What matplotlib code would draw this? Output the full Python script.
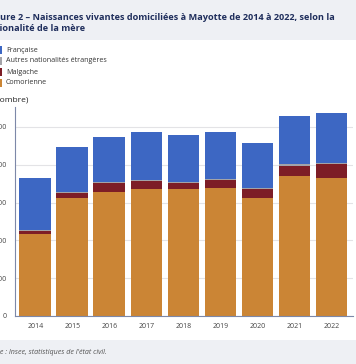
import matplotlib
matplotlib.use("Agg")
import matplotlib.pyplot as plt
from matplotlib.patches import Rectangle
import numpy as np

# données
years = ['2014', '2015', '2016', '2017', '2018', '2019', '2020', '2021', '2022']
comorienne = [4310, 6240, 6560, 6720, 6690, 6770, 6260, 7380, 7290]
malgache = [210, 250, 460, 410, 350, 420, 455, 560, 725]
autres = [40, 40, 50, 50, 50, 50, 55, 70, 70]
francaise = [2720, 2430, 2410, 2555, 2490, 2470, 2380, 2570, 2660]
yticks = [0, 2000, 4000, 6000, 8000, 10000]

col_com = '#cb8535'
col_mal = '#7d1d26'
col_aut = '#a3a3a8'
col_fra = '#3d67c3'

plt.rcParams['font.family'] = ['Open Sans', 'DejaVu Sans']

W, H = 356, 364
fig = plt.figure(figsize=(W / 100, H / 100), dpi=100)
renderer = fig.canvas.get_renderer()


def text_width(s, **kw):
    # largeur en pixels d'un texte
    t = fig.text(0, 0, s, **kw)
    w = t.get_window_extent(renderer).width
    t.remove()
    return w


# bandeaux gris (titre et source)
fig.patches.append(Rectangle((0, 1 - 40 / H), 1, 40 / H, transform=fig.transFigure,
                             facecolor='#eef0f4', edgecolor='none', zorder=0))
fig.patches.append(Rectangle((0, 0), 1, 24 / H, transform=fig.transFigure,
                             facecolor='#eef0f4', edgecolor='none', zorder=0))

title1 = "Figure 2 – Naissances vivantes domiciliées à Mayotte de 2014 à 2022, selon la"
title2 = "nationalité de la mère"
tkw = dict(fontweight='bold', color='#1f2e5c', va='center', ha='left')
fs = 10 * 336 / text_width(title1[3:], fontsize=10, **tkw)
fig.text(-text_width("Fig", fontsize=fs, **tkw) / W, 1 - 17 / H, title1, fontsize=fs, **tkw)
fig.text(-text_width("nat", fontsize=fs, **tkw) / W, 1 - 28.5 / H, title2, fontsize=fs, **tkw)

# légende manuelle
labels = ['Française', 'Autres nationalités étrangères', 'Malgache', 'Comorienne']
cols = [col_fra, col_aut, col_mal, col_com]
for i, (lab, c) in enumerate(zip(labels, cols)):
    yy = 1 - (50 + i * 11) / H
    fig.patches.append(Rectangle((-3 / W, yy - 4 / H), 5 / W, 8 / H, transform=fig.transFigure,
                                 facecolor=c, edgecolor='none'))
    fig.text(6 / W, yy, lab, fontsize=5.1, color='#333333', va='center', ha='left')

ykw = dict(fontsize=6, color='#222222', va='center', ha='left')
fig.text(-text_width("(n", **ykw) / W, 1 - 100 / H, "(nombre)", **ykw)

skw = dict(fontsize=5.1, style='italic', color='#555555', va='center', ha='left')
fig.text(-text_width("Sourc", **skw) / W, 12 / H, "Source : Insee, statistiques de l'état civil.", **skw)

ax = fig.add_axes([15 / W, 1 - 316 / H, 338 / W, (316 - 107) / H])
x = np.arange(len(years))
w = 0.86
b1 = np.array(comorienne)
b2 = b1 + np.array(malgache)
b3 = b2 + np.array(autres)
ax.bar(x, comorienne, w, color=col_com, zorder=2)
ax.bar(x, malgache, w, bottom=b1, color=col_mal, zorder=2)
ax.bar(x, autres, w, bottom=b2, color=col_aut, zorder=2)
ax.bar(x, francaise, w, bottom=b3, color=col_fra, zorder=2)

ax.set_xlim(-0.55, 8.58)
ax.set_ylim(0, 11050)
ax.set_xticks(x)
ax.set_xticklabels(years)
ax.set_yticks(yticks)
ax.set_yticklabels([f"{v:,}".replace(',', ' ') for v in yticks])
ax.tick_params(axis='both', length=0, labelsize=5, colors='#444444')
ax.tick_params(axis='x', pad=5)
ax.tick_params(axis='y', pad=6)
ax.grid(axis='y', color='#e3e3e6', linewidth=0.8, zorder=0)
for s in ['top', 'right']:
    ax.spines[s].set_visible(False)
ax.spines['left'].set_color('#7d88a8')
ax.spines['bottom'].set_color('#7d88a8')
ax.spines['left'].set_linewidth(0.8)
ax.spines['bottom'].set_linewidth(0.8)

fig.savefig('out.png', dpi=100)
